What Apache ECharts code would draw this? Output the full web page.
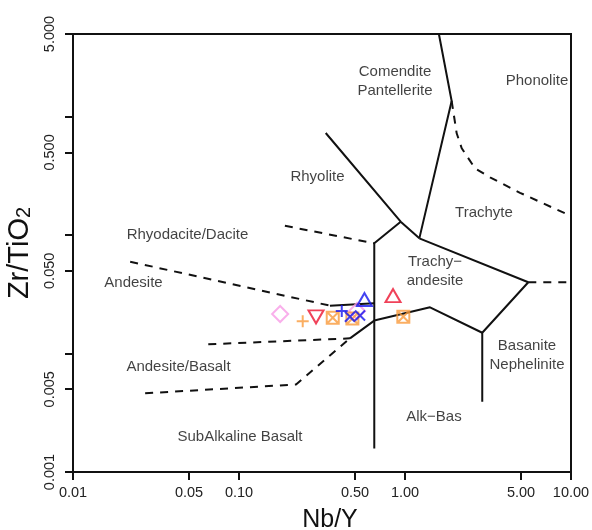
<!DOCTYPE html>
<html>
<head>
<meta charset="utf-8">
<script src="https://cdn.jsdelivr.net/npm/echarts@6/dist/echarts.min.js"></script>
<style>
  html, body { margin: 0; padding: 0; background: #fff; }
  #chart { width: 592px; height: 530px; }
</style>
</head>
<body>
<div id="chart"></div>
<script>
// Nb/Y vs Zr/TiO2 classification diagram, both axes logarithmic.

// ---- axis ticks ----
const xTickValues = [0.01, 0.05, 0.1, 0.5, 1, 5, 10];
const xTickLabels = ['0.01', '0.05', '0.10', '0.50', '1.00', '5.00', '10.00'];
const yTickValues = [0.001, 0.005, 0.01, 0.05, 0.1, 0.5, 1, 5];
const yTickLabels = ['0.001', '0.005', '', '0.050', '', '0.500', '', '5.000'];
const xRange = [0.01, 10];
const yRange = [0.001, 5];

// ---- field boundaries, [Nb/Y, Zr/TiO2] ----
const bComenditePhonolite = [[1.60, 5], [1.91, 1.36], [1.22, 0.094]];
const bRhyoliteTrachyte = [[0.333, 0.729], [0.942, 0.130], [1.22, 0.094]];
const bDaciteTrachyandesite = [[0.942, 0.130], [0.653, 0.0854], [0.653, 0.00158]];
const bTrachyandesiteBasanite = [[1.22, 0.094], [5.53, 0.040], [2.92, 0.0150], [2.92, 0.00392]];
const bTrachyandesiteAlkBas = [[2.92, 0.0150], [1.415, 0.0246], [0.653, 0.0190], [0.466, 0.01345]];
const bAndesiteDacite = [[0.353, 0.0254], [0.653, 0.0266]];

const dRhyodacite = [[0.189, 0.120], [0.653, 0.0854]];
const dAndesite = [[0.0221, 0.0597], [0.353, 0.0254]];
const dAndesiteBasalt = [[0.0653, 0.01197], [0.466, 0.01345]];
const dSubalkaline = [[0.0272, 0.00462], [0.2206, 0.00548], [0.466, 0.01345]];
const dPhonoliteTrachyte = [[1.91, 1.36], [2.048, 0.725], [2.196, 0.542], [2.641, 0.367],
                            [3.251, 0.308], [4.93, 0.228], [10, 0.145]];
const dBasaniteRight = [[5.53, 0.040], [10, 0.040]];

const solidBoundaries = [bComenditePhonolite, bRhyoliteTrachyte, bDaciteTrachyandesite,
  bTrachyandesiteBasanite, bTrachyandesiteAlkBas, bAndesiteDacite];
const dashedBoundaries = [dRhyodacite, dAndesite, dAndesiteBasalt, dSubalkaline,
  dPhonoliteTrachyte, dBasaniteRight];

// ---- field names, [Nb/Y, Zr/TiO2, text] ----
const fieldNames = [
  [0.8705, 1.978, 'Comendite\nPantellerite'],
  [6.24, 2.005, 'Phonolite'],
  [0.2971, 0.310, 'Rhyolite'],
  [2.991, 0.1539, 'Trachyte'],
  [1.516, 0.0491, 'Trachy\u2212\nandesite'],
  [0.04896, 0.1003, 'Rhyodacite/Dacite'],
  [0.02315, 0.0392, 'Andesite'],
  [0.04321, 0.00774, 'Andesite/Basalt'],
  [5.43, 0.00973, 'Basanite\nNephelinite'],
  [1.495, 0.00293, 'Alk\u2212Bas'],
  [0.1014, 0.001974, 'SubAlkaline Basalt']
];

// ---- samples, [Nb/Y, Zr/TiO2] ----
const pinkDiamond = [[0.177, 0.0216], [0.514, 0.0229]];
const orangePlus = [[0.242, 0.0188]];
const redDownTriangle = [[0.291, 0.0204]];
const orangeBoxCross = [[0.367, 0.0201], [0.482, 0.0198], [0.977, 0.0205]];
const bluePlus = [[0.416, 0.0229]];
const blueCross = [[0.466, 0.0205], [0.536, 0.0210]];
const blueUpTriangle = [[0.570, 0.0286]];
const redUpTriangle = [[0.847, 0.0309]];

const FONT = '"Liberation Sans", Arial, Helvetica, sans-serif';
const lg = Math.log10;
const toLog = pts => pts.map(p => [lg(p[0]), lg(p[1])]);

function tickFormatter(values, labels) {
  return v => {
    const i = values.findIndex(t => Math.abs(lg(t) - v) < 1e-6);
    return i >= 0 ? labels[i] : '';
  };
}

const SYM_PLUS = 'path://M5,0L5,10M0,5L10,5';
const SYM_CROSS = 'path://M0,0L10,10M10,0L0,10';
const SYM_BOXCROSS = 'path://M0,0L10,0L10,10L0,10ZM0,0L10,10M10,0L0,10';

function boundarySeries(pts, dashed) {
  return {
    type: 'line',
    data: toLog(pts),
    symbol: 'none',
    silent: true,
    z: 3,
    lineStyle: { color: '#111', width: 2, type: dashed ? [8, 7] : 'solid', cap: 'butt' }
  };
}

function sampleSeries(pts, symbol, size, color, rotate) {
  return {
    type: 'scatter',
    data: toLog(pts),
    symbol: symbol,
    symbolSize: size,
    symbolRotate: rotate || 0,
    z: 5,
    itemStyle: { color: 'rgba(0,0,0,0)', borderColor: color, borderWidth: 2 }
  };
}

const PINK = '#F79BE6', ORANGE = '#F99A3B', RED = '#EC1330', BLUE = '#1414EE';

const series = [];
solidBoundaries.forEach(b => series.push(boundarySeries(b, false)));
dashedBoundaries.forEach(b => series.push(boundarySeries(b, true)));
series.push({
  type: 'scatter',
  data: fieldNames.map(f => ({ value: [lg(f[0]), lg(f[1])], name: f[2] })),
  symbolSize: 0,
  silent: true,
  z: 4,
  label: {
    show: true, position: 'inside', formatter: p => p.name,
    color: '#111', fontSize: 15, fontFamily: FONT, lineHeight: 19, align: 'center'
  }
});
series.push(sampleSeries(pinkDiamond, 'diamond', [16, 16], PINK));
series.push(sampleSeries(orangePlus, SYM_PLUS, [12, 12], ORANGE));
series.push(sampleSeries(redDownTriangle, 'triangle', [15, 13], RED, 180));
series.push(sampleSeries(orangeBoxCross, SYM_BOXCROSS, [12, 12], ORANGE));
series.push(sampleSeries(bluePlus, SYM_PLUS, [12, 12], BLUE));
series.push(sampleSeries(blueCross, SYM_CROSS, [10, 10], BLUE));
series.push(sampleSeries(blueUpTriangle, 'triangle', [15, 13], BLUE));
series.push(sampleSeries(redUpTriangle, 'triangle', [15, 13], RED));

const axisCommon = {
  type: 'value',
  nameLocation: 'middle',
  axisLine: { show: true, onZero: false, lineStyle: { color: '#111', width: 2 } },
  axisTick: { show: true, inside: false, length: 8, lineStyle: { color: '#111', width: 2 } },
  splitLine: { show: false }
};

const chart = echarts.init(document.getElementById('chart'), null, { renderer: 'canvas' });
chart.setOption({
  animation: false,
  backgroundColor: '#fff',
  grid: {
    left: 73, right: 21, top: 34, bottom: 58,
    containLabel: false, outerBoundsMode: 'none',
    show: true, borderColor: '#111', borderWidth: 2, backgroundColor: 'transparent'
  },
  xAxis: Object.assign({}, axisCommon, {
    min: lg(xRange[0]), max: lg(xRange[1]),
    name: 'Nb/Y',
    nameGap: 36,
    nameTextStyle: { fontSize: 25, fontFamily: FONT, color: '#111', padding: [0, 0, 0, 16] },
    axisTick: Object.assign({}, axisCommon.axisTick, { customValues: xTickValues.map(lg) }),
    axisLabel: {
      customValues: xTickValues.map(lg),
      formatter: tickFormatter(xTickValues, xTickLabels),
      fontSize: 14.5, fontFamily: FONT, color: '#222', margin: 13
    }
  }),
  yAxis: Object.assign({}, axisCommon, {
    min: lg(yRange[0]), max: lg(yRange[1]),
    name: '{a|Zr/TiO}{b|2}',
    nameGap: 35,
    nameTextStyle: {
      fontFamily: FONT, color: '#111', padding: [0, 0, 0, 0],
      rich: {
        a: { fontSize: 29, fontFamily: FONT, color: '#111', lineHeight: 29, verticalAlign: 'top' },
        b: { fontSize: 20, fontFamily: FONT, color: '#111', lineHeight: 20, padding: [15, 0, 0, 0], verticalAlign: 'bottom' }
      }
    },
    axisTick: Object.assign({}, axisCommon.axisTick, { customValues: yTickValues.map(lg) }),
    axisLabel: {
      customValues: yTickValues.map(lg),
      formatter: tickFormatter(yTickValues, yTickLabels),
      rotate: 90,
      fontSize: 14.5, fontFamily: FONT, color: '#222', margin: 16
    }
  }),
  series: series
});
</script>
</body>
</html>
